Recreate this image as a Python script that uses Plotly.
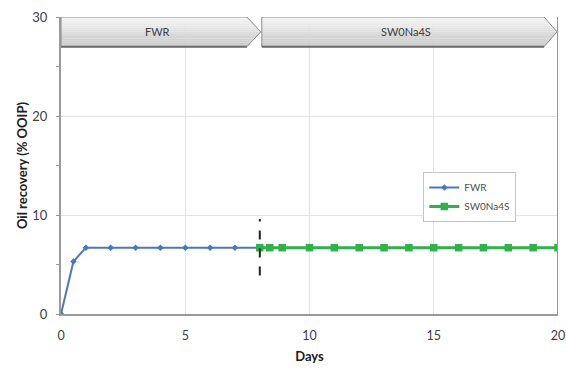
import plotly.graph_objects as go

# Oil recovery during sequential brine injections
fwr_days = [0, 0.5, 1, 2, 3, 4, 5, 6, 7, 8]
fwr_recovery = [0, 5.3, 6.7, 6.7, 6.7, 6.7, 6.7, 6.7, 6.7, 6.7]

sw_days = [8, 8.4, 8.9, 10, 11, 12, 13, 14, 15, 16, 17, 18, 19, 20]
sw_recovery = [6.7] * len(sw_days)

# Injection stages shown as banner arrows along the top
stage_names = ["FWR", "SW0Na4S"]
stage_start = [0, 8.08]
stage_body_end = [7.48, 19.44]
stage_tip = [8.04, 19.96]

switch_day = 8
switch_span = [3.9, 9.6]

FONT = "Lato, 'Open Sans', sans-serif"
TXT = "#404040"

fig = go.Figure()

fig.add_trace(go.Scatter(
    x=fwr_days, y=fwr_recovery, name="FWR", mode="lines+markers",
    line=dict(color="#4a78c0", width=2),
    marker=dict(symbol="diamond", size=5, color="#4a78c0"),
))
fig.add_trace(go.Scatter(
    x=sw_days, y=sw_recovery, name="SW0Na4S", mode="lines+markers",
    line=dict(color="#2fb24a", width=3),
    marker=dict(symbol="square", size=7.5, color="#2fb24a"),
))

shapes = []

# Stage switch marker
shapes.append(dict(type="line", xref="x", yref="y",
                   x0=switch_day, x1=switch_day,
                   y0=switch_span[0], y1=switch_span[1],
                   line=dict(color="#222222", width=2, dash="dash"),
                   layer="above"))

top, bot = 30.0, 27.0
mid = (top + bot) / 2


def right_edge(y, xb, xt):
    if y >= mid:
        return xb + (xt - xb) * (top - y) / (top - mid)
    return xb + (xt - xb) * (y - bot) / (mid - bot)


def lerp_color(c0, c1, t):
    a = [int(c0[i:i + 2], 16) for i in (1, 3, 5)]
    b = [int(c1[i:i + 2], 16) for i in (1, 3, 5)]
    return "#" + "".join(f"{round(a[k] + (b[k] - a[k]) * t):02x}" for k in range(3))


nb = 14
for x0, xb, xt in zip(stage_start, stage_body_end, stage_tip):
    for i in range(nb):
        ya = top - (top - bot) * i / nb
        yb = top - (top - bot) * (i + 1) / nb
        pts = [(x0, ya), (right_edge(ya, xb, xt), ya)]
        if ya > mid > yb:
            pts.append((xt, mid))
        pts += [(right_edge(yb, xb, xt), yb), (x0, yb)]
        path = "M " + " L ".join(f"{px},{py}" for px, py in pts) + " Z"
        col = lerp_color("#f6f6f6", "#c6c6c6", (i + 0.5) / nb)
        shapes.append(dict(type="path", xref="x", yref="y", path=path,
                           fillcolor=col, line=dict(width=0), layer="above"))
    outline = (f"M {x0},{top} L {xb},{top} L {xt},{mid} L {xb},{bot} "
               f"L {x0},{bot} Z")
    shapes.append(dict(type="path", xref="x", yref="y", path=outline,
                       fillcolor="rgba(0,0,0,0)",
                       line=dict(color="#8a8a8a", width=1), layer="above"))
    shapes.append(dict(type="line", xref="x", yref="y", x0=x0, x1=xb,
                       y0=bot, y1=bot, line=dict(color="#6e6e6e", width=2),
                       layer="above"))

# Right border of the plot area
shapes.append(dict(type="line", xref="x", yref="y", x0=20, x1=20, y0=0, y1=30,
                   line=dict(color="#9a9a9a", width=2), layer="above"))

annotations = []
for name, x0, xt in zip(stage_names, stage_start, stage_tip):
    annotations.append(dict(x=(x0 + xt) / 2 - 0.15, y=mid, xref="x", yref="y",
                            text=name, showarrow=False,
                            font=dict(family=FONT, size=11, color=TXT)))

fig.update_layout(
    width=566, height=370,
    margin=dict(l=61, r=8, t=17, b=56, autoexpand=False),
    paper_bgcolor="white", plot_bgcolor="white",
    font=dict(family=FONT, size=12, color=TXT),
    shapes=shapes, annotations=annotations,
    showlegend=True,
    legend=dict(x=0.729, y=0.478, xanchor="left", yanchor="top",
                bgcolor="white", bordercolor="#c4c4c4", borderwidth=1,
                font=dict(family=FONT, size=10, color="#505050"),
                itemwidth=30, tracegroupgap=0),
)

fig.update_xaxes(
    range=[0, 20], tickvals=[0, 5, 10, 15, 20],
    showgrid=True, gridcolor="#e4e4e4", gridwidth=1,
    showline=True, linecolor="#9a9a9a", linewidth=2,
    ticks="", zeroline=False, ticklabelstandoff=9,
    ticklabeloverflow="allow", automargin=False,
    tickfont=dict(family=FONT, size=12.5, color=TXT),
    title=dict(text="<b>Days</b>", font=dict(family=FONT, size=13, color="#202020"),
               standoff=10),
)
fig.update_yaxes(
    range=[0, 30], tickvals=[0, 10, 20, 30],
    showgrid=True, gridcolor="#e4e4e4", gridwidth=1,
    showline=True, linecolor="#9a9a9a", linewidth=2,
    ticks="outside", ticklen=3, tickcolor="#9a9a9a",
    minor=dict(dtick=5, ticks="outside", ticklen=3, tickcolor="#9a9a9a",
               showgrid=False),
    zeroline=False, ticklabelstandoff=6, automargin=False,
    tickfont=dict(family=FONT, size=13, color=TXT),
    title=dict(text="<b>Oil recovery (% OOIP)</b>",
               font=dict(family=FONT, size=13, color="#202020"), standoff=2),
)

fig.write_html("out.html")
